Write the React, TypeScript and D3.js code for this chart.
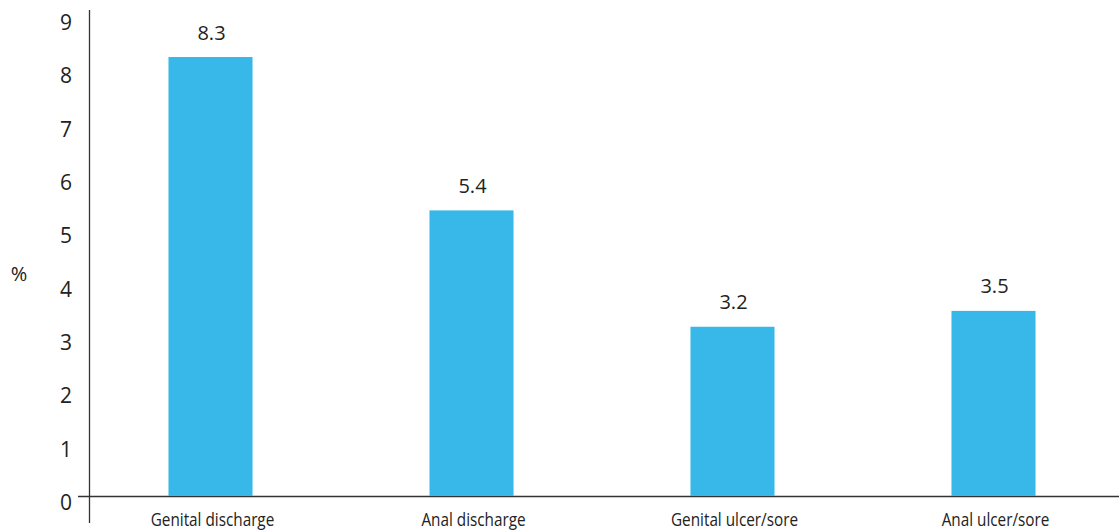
import React from "react";
import * as d3 from "d3";

const categories = ["Genital discharge", "Anal discharge", "Genital ulcer/sore", "Anal ulcer/sore"];
const values = [8.3, 5.4, 3.2, 3.5];
const valueLabels = ["8.3", "5.4", "3.2", "3.5"];
const yTicks = [0, 1, 2, 3, 4, 5, 6, 7, 8, 9];
const yTitle = "%";

const W = 1119;
const H = 531;

export default function App() {
  const x = d3.scaleBand<string>().domain(categories).range([80, 1124]).paddingInner(0.678).paddingOuter(0.339);
  const y = d3.scaleLinear().domain([0, 9]).range([496, 20]);
  const yLab = d3.scaleLinear().domain([0, 9]).range([502, 22]);
  const bw = x.bandwidth();
  return (
    <svg width={W} height={H} style={{ position: "absolute", left: 0, top: 0, background: "#fff" }}>
      <line x1={89.5} x2={89.5} y1={10} y2={523} stroke="#333" strokeWidth={1.3} />
      <line x1={78} x2={1119} y1={y(0) + 0.5} y2={y(0) + 0.5} stroke="#333" strokeWidth={1.3} />
      {yTicks.map((t) => (
        <text key={t} x={72} y={yLab(t)} textAnchor="end" dominantBaseline="central"
          fontFamily="'Open Sans', sans-serif" fontSize={21} fill="#222">{t}</text>
      ))}
      <text x={19} y={273} textAnchor="middle" dominantBaseline="central"
        fontFamily="'Open Sans', sans-serif" fontSize={20} fill="#222">{yTitle}</text>
      {categories.map((c, i) => (
        <g key={c}>
          <rect x={x(c)!} y={y(values[i])} width={bw} height={y(0) - y(values[i])} fill="#37B8E9" />
          <text x={x(c)! + bw / 2 + 1} y={y(values[i]) - 25} textAnchor="middle" dominantBaseline="central"
            fontFamily="'Open Sans', sans-serif" fontSize={20} fill="#222">{valueLabels[i]}</text>
          <g transform={`translate(${x(c)! + bw / 2 + 2},519) scale(0.85,1)`}>
            <text x={0} y={0} textAnchor="middle" dominantBaseline="central"
              fontFamily="'Open Sans', sans-serif" fontSize={18} fill="#222">{c}</text>
          </g>
        </g>
      ))}
    </svg>
  );
}
